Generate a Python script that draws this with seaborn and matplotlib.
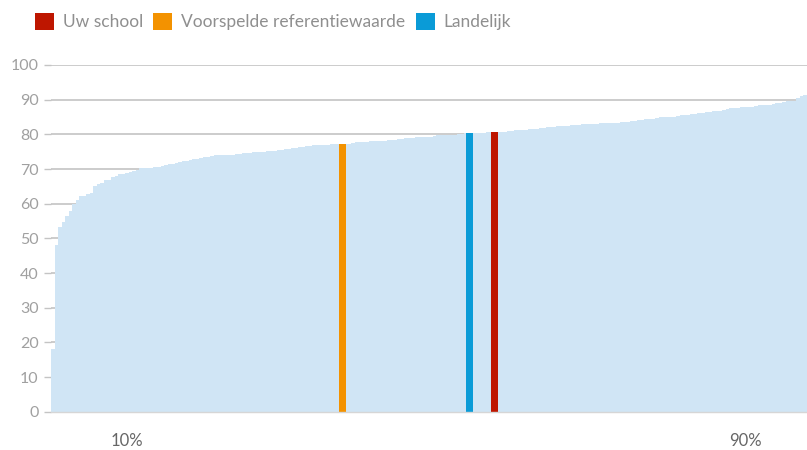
import pandas as pd
import numpy as np
import matplotlib
matplotlib.use("Agg")
import matplotlib.pyplot as plt
import seaborn as sns

# sorted school scores (distribution, lowest to highest)
scores = [
    18, 48, 53.3, 54.7, 56.5, 58, 59.9, 61, 62.2, 62.2,
    62.8, 63.2, 65.1, 65.8, 66, 66.8, 66.8, 67.8, 68, 68.5,
    68.5, 68.9, 69.2, 69.5, 69.6, 70.2, 70.2, 70.2, 70.3, 70.6,
    70.7, 71, 71.1, 71.5, 71.5, 71.6, 72, 72.3, 72.4, 72.6,
    72.8, 73, 73.3, 73.5, 73.5, 73.8, 73.9, 74, 74, 74,
    74, 74.1, 74.2, 74.4, 74.6, 74.7, 74.7, 75, 75, 75,
    75, 75.1, 75.3, 75.3, 75.6, 75.6, 75.9, 75.9, 76.2, 76.2,
    76.3, 76.4, 76.7, 76.7, 76.9, 76.9, 76.9, 76.9, 77, 77.2,
    77.2, 77.2, 77.2, 77.2, 77.3, 77.5, 77.8, 77.8, 77.8, 77.8,
    78.1, 78.1, 78.1, 78.1, 78.2, 78.4, 78.4, 78.4, 78.7, 78.7,
    79, 79, 79, 79.2, 79.2, 79.3, 79.3, 79.3, 79.6, 79.7,
    79.7, 79.7, 79.7, 79.7, 79.7, 80, 80, 80.4, 80.4, 80.4,
    80.4, 80.4, 80.4, 80.7, 80.7, 80.7, 80.7, 80.7, 80.7, 81,
    81, 81.3, 81.3, 81.3, 81.3, 81.6, 81.6, 81.6, 81.8, 81.8,
    82, 82.1, 82.1, 82.4, 82.4, 82.4, 82.4, 82.7, 82.7, 82.7,
    83, 83, 83, 83, 83, 83.3, 83.3, 83.3, 83.3, 83.3,
    83.3, 83.6, 83.6, 83.6, 83.9, 83.9, 84.2, 84.2, 84.5, 84.5,
    84.5, 84.8, 85.1, 85.1, 85.1, 85.1, 85.1, 85.4, 85.6, 85.6,
    85.6, 85.9, 85.9, 86.2, 86.2, 86.5, 86.5, 86.8, 86.8, 86.8,
    87.1, 87.4, 87.7, 87.7, 87.7, 87.9, 87.9, 87.9, 87.9, 88.2,
    88.5, 88.5, 88.5, 88.5, 88.8, 89.1, 89.1, 89.4, 89.7, 89.7,
    89.7, 90.5, 91.1, 91.4,
]

# highlighted values and their rank in the distribution
labels = ["Uw school", "Voorspelde referentiewaarde", "Landelijk"]
label_values = [80.7, 77.2, 80.4]
label_ranks = [125, 82, 118]
label_colors = ["#BE1600", "#F39200", "#0A9BD7"]

pct_labels = ["10%", "90%"]
pct_ranks = [21, 196]

yticks = list(range(0, 101, 10))

ranks = list(range(len(scores)))
df = pd.DataFrame({"rank": ranks, "score": scores})
hl = pd.DataFrame({"rank": label_ranks, "score": label_values, "kind": labels})

fig = plt.figure(figsize=(8.07, 4.5), dpi=100)
ax = fig.add_axes([51 / 807, 38.3 / 450, 756 / 807, 346.7 / 450])

sns.barplot(data=df, x="rank", y="score", order=ranks, color="#D0E5F5",
            width=1.0, saturation=1, linewidth=0, ax=ax)
sns.barplot(data=hl, x="rank", y="score", order=ranks, hue="kind",
            hue_order=labels, palette=label_colors, dodge=False,
            width=2.1, saturation=1, linewidth=0, ax=ax)

ax.set_ylim(0, 100)
ax.set_xlim(-0.5, len(scores) - 0.5)
ax.set_yticks(yticks)
ax.set_xticks(pct_ranks)
ax.set_xticklabels(pct_labels)
ax.set_xlabel("")
ax.set_ylabel("")

ax.set_axisbelow(True)
ax.grid(axis="y", color="#C4C4C4", linewidth=1.2)
ax.grid(axis="x", visible=False)
for s in ["top", "right", "left"]:
    ax.spines[s].set_visible(False)
ax.spines["bottom"].set_color("#D6D6D6")
ax.spines["bottom"].set_linewidth(1)

ax.tick_params(axis="y", length=5, width=1, color="#C4C4C4", pad=4,
               labelsize=11.5, labelcolor="#A0A0A0")
ax.tick_params(axis="x", length=0, pad=15, labelsize=12, labelcolor="#666666")
for t in ax.get_xticklabels() + ax.get_yticklabels():
    t.set_family("Lato")

leg = ax.legend(loc="upper left", bbox_to_anchor=(-23 / 756, 1 + 59 / 346.7),
                ncol=3, frameon=False, handlelength=1.1, handleheight=1.1,
                handletextpad=0.5, columnspacing=0.6, borderaxespad=0,
                prop={"family": "Lato", "size": 12.5})
for t in leg.get_texts():
    t.set_color("#8F8F8F")

fig.savefig("out.png", dpi=100)
